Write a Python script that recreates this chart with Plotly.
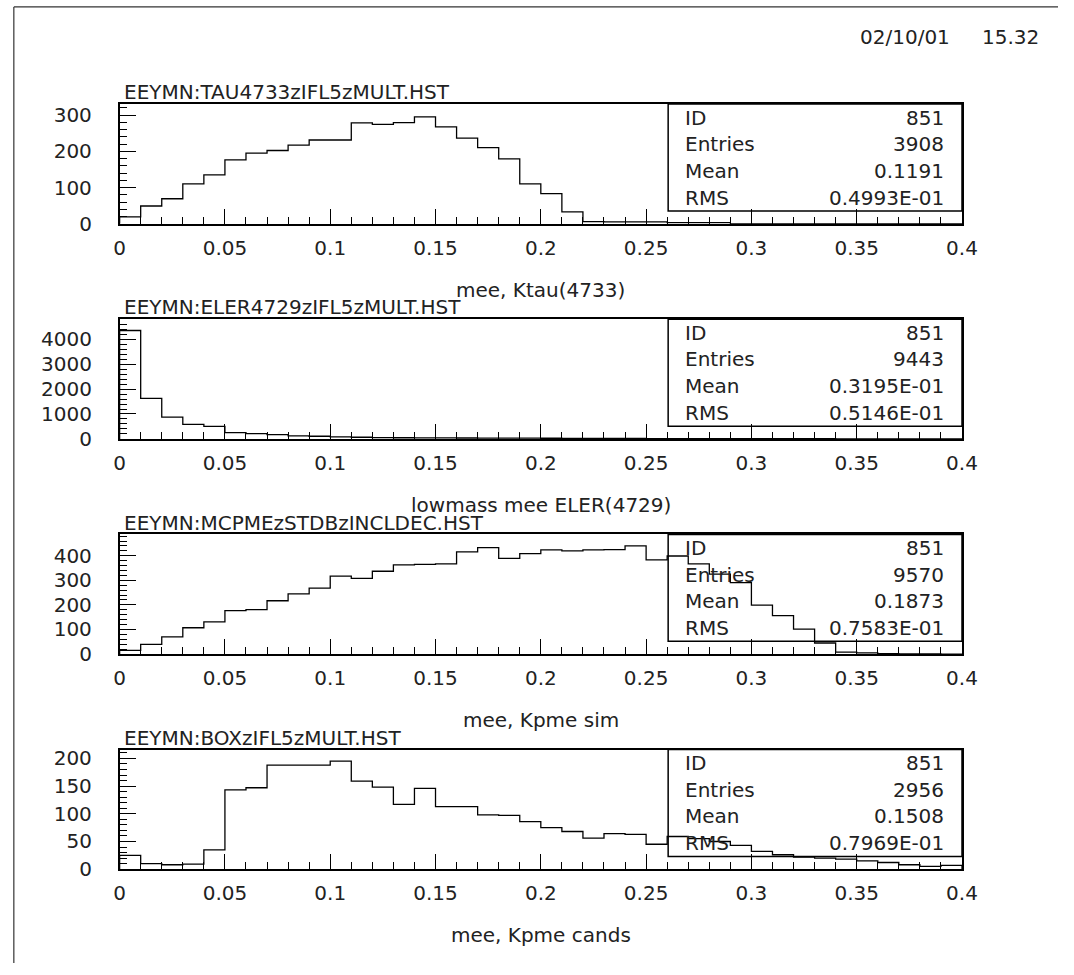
import numpy as np
import plotly.graph_objects as go

# ---- histogram contents: 40 bins of width 0.01 from 0 to 0.4 ----
BIN_WIDTH = 0.01
X_MIN, X_MAX = 0.0, 0.4

tau_counts = [19, 49, 69, 110, 135, 176, 195, 202, 217, 231,
              231, 278, 274, 279, 295, 267, 236, 210, 179, 110,
              83, 33, 6, 5, 5, 5, 3, 3, 3, 0,
              0, 0, 0, 0, 0, 0, 0, 0, 0, 0]
eler_counts = [4355, 1629, 874, 583, 503, 252, 212, 172, 119, 106,
               80, 66, 50, 45, 40, 38, 35, 32, 30, 28,
               25, 22, 20, 18, 15, 14, 12, 10, 9, 8,
               7, 6, 5, 5, 4, 4, 3, 3, 2, 2]
kpme_sim_counts = [15, 39, 70, 107, 131, 177, 181, 217, 245, 268,
                   317, 308, 337, 363, 365, 367, 416, 433, 389, 409,
                   424, 420, 424, 425, 440, 383, 399, 367, 325, 291,
                   199, 156, 101, 45, 8, 5, 2, 1, 1, 0]
kpme_cands_counts = [25, 10, 8, 9, 35, 143, 147, 188, 188, 188,
                     195, 159, 148, 117, 146, 113, 113, 98, 97, 86,
                     75, 68, 56, 64, 63, 45, 59, 55, 50, 43,
                     32, 26, 22, 20, 18, 15, 12, 8, 5, 7]

hist_counts = [tau_counts, eler_counts, kpme_sim_counts, kpme_cands_counts]
hist_titles = ["EEYMN:TAU4733zIFL5zMULT.HST",
               "EEYMN:ELER4729zIFL5zMULT.HST",
               "EEYMN:MCPMEzSTDBzINCLDEC.HST",
               "EEYMN:BOXzIFL5zMULT.HST"]
x_titles = ["mee, Ktau(4733)", "lowmass mee ELER(4729)",
            "mee, Kpme sim", "mee, Kpme cands"]
stat_labels = ["ID", "Entries", "Mean", "RMS"]
stat_values = [["851", "3908", "0.1191", "0.4993E-01"],
               ["851", "9443", "0.3195E-01", "0.5146E-01"],
               ["851", "9570", "0.1873", "0.7583E-01"],
               ["851", "2956", "0.1508", "0.7969E-01"]]
y_max = [330, 4806, 487, 216]
y_major = [100, 1000, 100, 50]
y_minor = [20, 200, 20, 10]
date_text = "02/10/01"
time_text = "15.32"

# ---- page geometry (pixels) ----
W, H = 1074, 975
AX_L, AX_R = 116, 976
PANEL_TOPS = [102.7, 321.2, 539.7, 758.2]
PANEL_H = 121.5
BOX_L = 676
BOX_H = 108.6
ROW_H = 27.15

FONT = "DejaVu Sans"
INK = "#222222"
FS = 20


def px(x):
    return x / W


def py(y):
    return 1 - y / H


fig = go.Figure()
shapes = []
annotations = []

for i, counts in enumerate(hist_counts):
    n = len(counts)
    edges = X_MIN + BIN_WIDTH * np.arange(n + 1)
    xs = [edges[0]] + list(edges[:-1]) + [edges[-1], edges[-1]]
    ys = [0] + list(counts) + [counts[-1], 0]
    suffix = "" if i == 0 else str(i + 1)
    fig.add_trace(go.Scatter(
        x=xs, y=ys, mode="lines", line_shape="hv",
        line=dict(color="black", width=1.3),
        xaxis="x" + suffix, yaxis="y" + suffix,
        hoverinfo="skip", showlegend=False,
    ))

    top = PANEL_TOPS[i]
    bottom = top + PANEL_H
    axis_common = dict(
        showline=True, mirror=True, linecolor="black", linewidth=1.5,
        showgrid=False, zeroline=False, ticks="inside", tickcolor="black",
        tickwidth=1.2, tickfont=dict(family=FONT, size=FS, color=INK),
    )
    fig.update_layout(**{
        "xaxis" + suffix: dict(
            domain=[px(AX_L), px(AX_R)], anchor="y" + suffix,
            range=[X_MIN, X_MAX], tick0=0, dtick=0.05, ticklen=15,
            minor=dict(dtick=0.01, ticks="inside", ticklen=7,
                       tickwidth=1.2, tickcolor="black"),
            ticklabelstandoff=5,
            **axis_common,
        ),
        "yaxis" + suffix: dict(
            domain=[py(bottom), py(top)], anchor="x" + suffix,
            range=[0, y_max[i]], tick0=0, dtick=y_major[i], ticklen=17,
            minor=dict(dtick=y_minor[i], ticks="inside", ticklen=8,
                       tickwidth=1.2, tickcolor="black"),
            ticklabelstandoff=22,
            **axis_common,
        ),
    })

    # histogram file name above the frame
    annotations.append(dict(
        x=px(AX_L + 2), y=py(top - 12), xref="paper", yref="paper",
        text=hist_titles[i], showarrow=False, xanchor="left", yanchor="middle",
        font=dict(family=FONT, size=FS, color=INK),
    ))
    # axis title under the tick labels
    annotations.append(dict(
        x=px((AX_L + AX_R) / 2), y=py(bottom + 67), xref="paper", yref="paper",
        text=x_titles[i], showarrow=False, xanchor="center", yanchor="middle",
        font=dict(family=FONT, size=FS, color=INK),
    ))
    # statistics box
    shapes.append(dict(
        type="rect", xref="paper", yref="paper",
        x0=px(BOX_L), x1=px(AX_R), y0=py(top + BOX_H), y1=py(top),
        line=dict(color="black", width=1.5), fillcolor="rgba(0,0,0,0)",
        layer="above",
    ))
    for r, (lab, val) in enumerate(zip(stat_labels, stat_values[i])):
        yc = top + 13.6 + ROW_H * r
        annotations.append(dict(
            x=px(BOX_L + 15), y=py(yc), xref="paper", yref="paper",
            text=lab, showarrow=False, xanchor="left", yanchor="middle",
            font=dict(family=FONT, size=FS, color=INK),
        ))
        annotations.append(dict(
            x=px(AX_R - 16), y=py(yc), xref="paper", yref="paper",
            text=val, showarrow=False, xanchor="right", yanchor="middle",
            font=dict(family=FONT, size=FS, color=INK),
        ))

# date / time stamp
annotations.append(dict(
    x=px(966), y=py(35), xref="paper", yref="paper", text=date_text,
    showarrow=False, xanchor="right", yanchor="middle",
    font=dict(family=FONT, size=FS, color=INK),
))
annotations.append(dict(
    x=px(1057), y=py(35), xref="paper", yref="paper", text=time_text,
    showarrow=False, xanchor="right", yanchor="middle",
    font=dict(family=FONT, size=FS, color=INK),
))

# page frame (top and left edges)
shapes.append(dict(type="line", xref="paper", yref="paper",
                   x0=px(8), x1=1, y0=py(4), y1=py(4),
                   line=dict(color="#333333", width=1.2)))
shapes.append(dict(type="line", xref="paper", yref="paper",
                   x0=px(8), x1=px(8), y0=py(4), y1=0,
                   line=dict(color="#333333", width=1.2)))

fig.update_layout(
    width=W, height=H, margin=dict(l=0, r=0, t=0, b=0),
    paper_bgcolor="white", plot_bgcolor="white", showlegend=False,
    shapes=shapes, annotations=annotations,
)

fig.write_html("out.html")
